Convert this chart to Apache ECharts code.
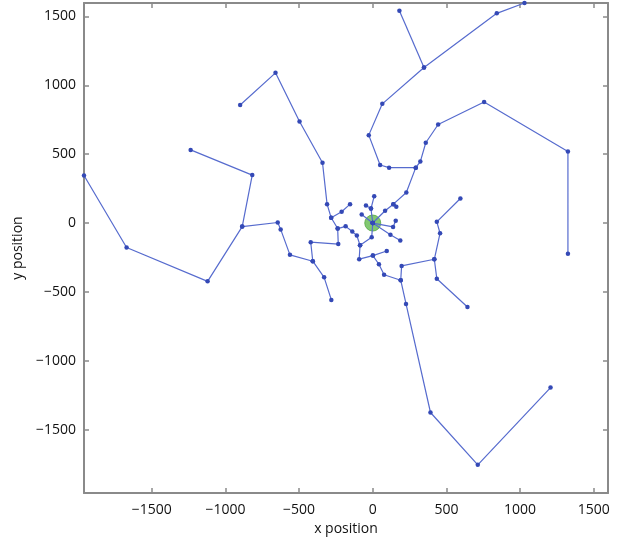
<!DOCTYPE html>
<html>
<head>
<meta charset="utf-8">
<script src="https://cdn.jsdelivr.net/npm/echarts@6/dist/echarts.min.js"></script>
<style>
  html, body { margin: 0; padding: 0; background: #fff; }
  #chart { width: 617px; height: 541px; }
</style>
</head>
<body>
<div id="chart"></div>
<script>
// Axis ranges and tick positions
const axisRange = [-1960, 1597];
const tickValues = [-1500, -1000, -500, 0, 500, 1000, 1500];

// Origin of all tracks
const origin = [[0, 0]];

// Track segments, each a list of [x, y] positions
const upperLeftArm = [[-900, 857], [-660, 1090], [-497, 737], [-341, 438], [-310, 137], [-282, 38],
  [-238, -40], [-234, -153], [-421, -139], [-407, -277], [-330, -394], [-281, -558]];
const upperLeftBranch = [[-282, 38], [-211, 82], [-154, 137]];
const innerChain = [[-238, -40], [-184, -24], [-139, -62], [-108, -90], [-86, -162], [-92, -262], [1, -236], [95, -203]];
const innerSpokeDown = [[0, 0], [-7, -103], [-86, -162]];
const leftArm = [[-407, -277], [-562, -231], [-625, -46], [-645, 4], [-886, -26], [-1121, -423], [-1671, -178], [-1960, 345]];
const leftBranch = [[-886, -26], [-818, 348], [-1236, 531]];
const bottomArm = [[1, -236], [42, -299], [77, -375], [190, -415], [226, -587], [392, -1375], [713, -1755], [1207, -1194]];
const bottomBranch = [[190, -415], [196, -311], [418, -263]];
const rightArm = [[595, 178], [435, 9], [457, -74], [418, -263], [435, -404], [643, -609]];
const upperRightArm = [[0, 0], [84, 89], [140, 137], [228, 222], [292, 402], [323, 446], [360, 583], [444, 715],
  [756, 879], [1325, 520], [1325, -222]];
const topLoop = [[292, 402], [111, 402], [50, 421], [-27, 638], [65, 865], [348, 1129], [842, 1522], [1030, 1597]];
const topBranch = [[181, 1541], [348, 1129]];
const shortTail = [[140, 137], [160, 118]];
const spokeUp = [[0, 0], [-12, 105], [10, 195]];
const spokeUpLeft = [[-12, 105], [-46, 128]];
const spokeLeft = [[0, 0], [-75, 62]];
const spokeRight = [[0, 0], [138, -28], [156, 17]];
const spokeDownRight = [[0, 0], [120, -85], [187, -127]];

const tracks = [upperLeftArm, upperLeftBranch, innerChain, innerSpokeDown, leftArm, leftBranch, bottomArm,
  bottomBranch, rightArm, upperRightArm, topLoop, topBranch, shortTail, spokeUp, spokeUpLeft, spokeLeft,
  spokeRight, spokeDownRight];

const FONT = '"Open Sans", "Liberation Sans", sans-serif';
const FRAME = '#8a8a8a';
const TEXT = '#111111';
const fmt = v => (v < 0 ? '\u2212' + Math.abs(v) : String(v));

function makeAxis(position, withLabels, name) {
  const ax = {
    type: 'value',
    position: position,
    min: axisRange[0],
    max: axisRange[1],
    splitLine: { show: false },
    axisLine: { show: true, onZero: false, lineStyle: { color: FRAME, width: 2 } },
    axisTick: { show: true, inside: true, length: 5, customValues: tickValues,
      lineStyle: { color: FRAME, width: 1.5 } },
    axisLabel: { show: withLabels, customValues: tickValues, formatter: fmt, margin: 8,
      color: TEXT, fontFamily: FONT, fontSize: 14 }
  };
  if (name) {
    ax.name = name;
    ax.nameLocation = 'middle';
    ax.nameTextStyle = { color: TEXT, fontFamily: FONT, fontSize: 14 };
  }
  return ax;
}

const xBottom = makeAxis('bottom', true, 'x position');
xBottom.axisLabel.margin = 10;
xBottom.nameGap = 27;
const yLeft = makeAxis('left', true, 'y position');
yLeft.nameGap = 58;

const series = [{
  type: 'scatter',
  data: origin,
  symbolSize: 16,
  itemStyle: { color: '#63ba4d', borderColor: '#53a83f', borderWidth: 1 },
  z: 1,
  silent: true
}];
tracks.forEach(t => {
  series.push({
    type: 'line',
    data: t,
    showSymbol: true,
    symbol: 'circle',
    symbolSize: 4.5,
    clip: false,
    lineStyle: { color: '#566bce', width: 1.2 },
    itemStyle: { color: '#3449b6' },
    z: 2,
    silent: true,
    animation: false
  });
});

const chart = echarts.init(document.getElementById('chart'), null, { renderer: 'canvas' });
chart.setOption({
  animation: false,
  backgroundColor: '#ffffff',
  grid: { left: 84, right: 9, top: 3, bottom: 46, containLabel: false },
  xAxis: [xBottom, makeAxis('top', false)],
  yAxis: [yLeft, makeAxis('right', false)],
  series: series
});
</script>
</body>
</html>
